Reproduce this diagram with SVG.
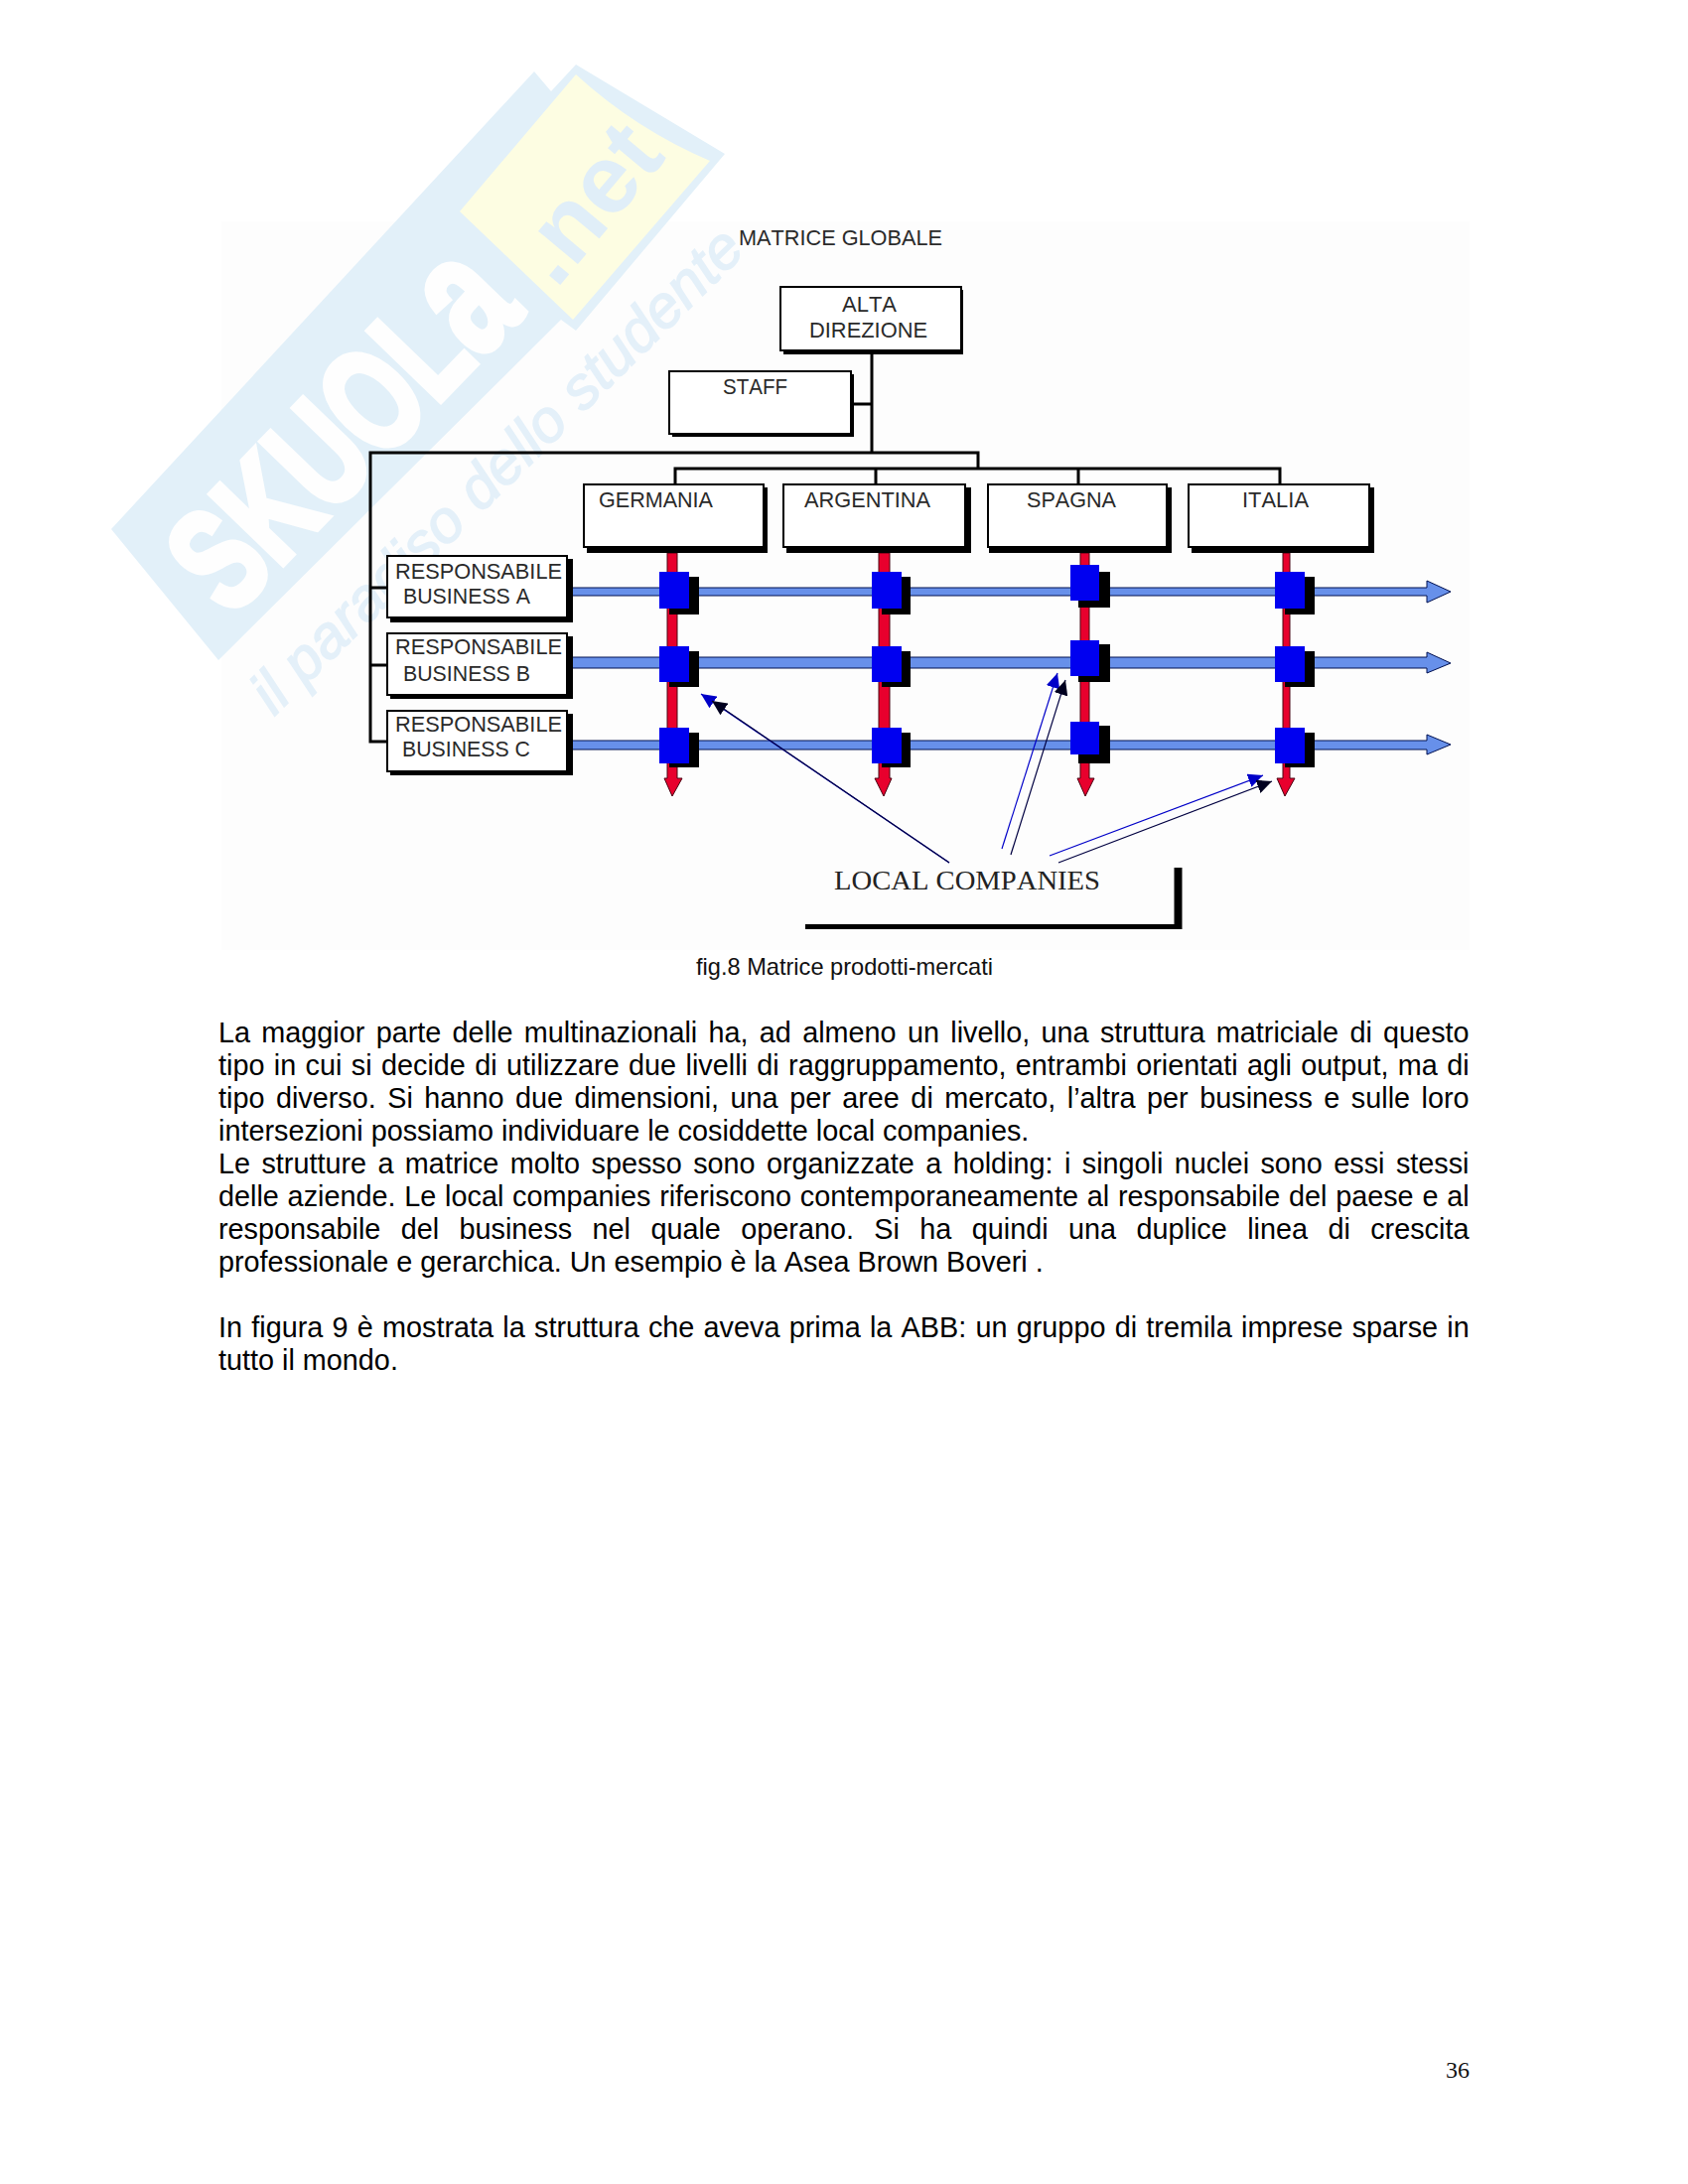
<svg xmlns="http://www.w3.org/2000/svg" width="1700" height="2200" viewBox="0 0 1700 2200">
<style>
text{font-family:"Liberation Sans",Arial,sans-serif;font-kerning:none}
.lab{font-size:22px;fill:#2a2a2a}
.body{font-size:28.8px;fill:#000}
.box{fill:#fff;stroke:#000;stroke-width:2}
.sh{fill:#000}
.ln{fill:none;stroke:#000;stroke-width:3}
.hbar{fill:#6790ea;stroke:#001050;stroke-width:1}
.vbar{fill:#e8002d;stroke:#4a0010;stroke-width:1}
.sq{fill:#0000f0}
.blue{stroke:#0000c8;stroke-width:1.2;fill:none}
.navy{stroke:#000040;stroke-width:1.2;fill:none}
</style>
<defs>
<marker id="mb" markerUnits="userSpaceOnUse" markerWidth="16" markerHeight="14" refX="15" refY="7" orient="auto"><path d="M0 0L15 7L0 14Z" fill="#0000c8"/></marker>
<marker id="mk" markerUnits="userSpaceOnUse" markerWidth="16" markerHeight="14" refX="15" refY="7" orient="auto"><path d="M0 0L15 7L0 14Z" fill="#000020"/></marker>
</defs>
<rect width="1700" height="2200" fill="#fff"/>
<rect x="223" y="223" width="1257" height="734" fill="#fdfdfd"/>
<g id="watermark">
<polygon points="112,533 538,72 555,92 580,65 730,155 580,333 565,322 220,665" fill="#e2f0f9"/>
<path d="M580 75Q640 130 715 162L577 322L463 213Z" fill="#fdfde2"/>
<text transform="translate(232,623) rotate(-46) scale(0.66,0.94)" font-size="156" font-weight="700" fill="#fefefe" stroke="#fefefe" stroke-width="7">SKUOL<tspan font-size="185">a</tspan></text>
<text transform="translate(560,292) rotate(-50)" font-size="98" font-weight="700" fill="#e0eef8">.net</text>
<text transform="translate(276,722) rotate(-44.5)" font-size="60" font-style="italic" fill="#e4f0f9" stroke="#e4f0f9" stroke-width="1.5" textLength="668" lengthAdjust="spacingAndGlyphs">il paradiso dello studente</text>
</g>
<text id="title" class="lab" x="744" y="247" textLength="205" lengthAdjust="spacingAndGlyphs">MATRICE GLOBALE</text>
<g id="connectors">
<path class="ln" d="M878 357V456M860 407H878M985 472V456H373V747H390M373 592H390M373 670H390"/>
<path class="ln" d="M680 487V472H1289V487M882 472V487M1086 472V487"/>
<path class="vbar" d="M672 557H682V784H687L677 802L669 784H672Z"/>
<path class="vbar" d="M885 557H896V784H898L890 802L881 784H885Z"/>
<path class="vbar" d="M1088 557H1097V784H1102L1093 802L1085 784H1088Z"/>
<path class="vbar" d="M1292 557H1299V784H1304L1294 802L1286 784H1292Z"/>
<path class="hbar" d="M576 592H1437V585L1461 596L1437 607V600H576Z"/>
<path class="hbar" d="M576 662H1437V657L1461 668L1437 678V673H576Z"/>
<path class="hbar" d="M576 746H1437V740L1461 750L1437 760V755H576Z"/>
</g>
<g id="node-alta"><rect class="sh" x="789" y="292" width="181" height="65"/><rect class="box" x="786" y="289" width="182" height="64"/><text class="lab" x="848" y="314" textLength="55" lengthAdjust="spacingAndGlyphs">ALTA</text><text class="lab" x="815" y="340" textLength="119" lengthAdjust="spacingAndGlyphs">DIREZIONE</text></g>
<g id="node-staff"><rect class="sh" x="677" y="377" width="183" height="63"/><rect class="box" x="674" y="374" width="183" height="63"/><text class="lab" x="728" y="397" textLength="65" lengthAdjust="spacingAndGlyphs">STAFF</text></g>
<g id="node-germania"><rect class="sh" x="591" y="491" width="182" height="66"/><rect class="box" x="588" y="488" width="181" height="63"/><text class="lab" x="603" y="511" textLength="115" lengthAdjust="spacingAndGlyphs">GERMANIA</text></g>
<g id="node-argentina"><rect class="sh" x="792" y="491" width="186" height="66"/><rect class="box" x="789" y="488" width="183" height="63"/><text class="lab" x="810" y="511" textLength="127" lengthAdjust="spacingAndGlyphs">ARGENTINA</text></g>
<g id="node-spagna"><rect class="sh" x="996" y="491" width="184" height="66"/><rect class="box" x="995" y="488" width="180" height="63"/><text class="lab" x="1034" y="511" textLength="90" lengthAdjust="spacingAndGlyphs">SPAGNA</text></g>
<g id="node-italia"><rect class="sh" x="1200" y="491" width="184" height="66"/><rect class="box" x="1197" y="488" width="182" height="63"/><text class="lab" x="1251" y="511" textLength="67" lengthAdjust="spacingAndGlyphs">ITALIA</text></g>
<g id="node-business-a"><rect class="sh" x="393" y="563" width="184" height="64"/><rect class="box" x="390" y="560" width="181" height="62"/><text class="lab" x="398" y="583" textLength="168" lengthAdjust="spacingAndGlyphs">RESPONSABILE</text><text class="lab" x="406" y="608" textLength="128" lengthAdjust="spacingAndGlyphs">BUSINESS A</text></g>
<g id="node-business-b"><rect class="sh" x="393" y="641" width="184" height="63"/><rect class="box" x="390" y="638" width="181" height="62"/><text class="lab" x="398" y="659" textLength="168" lengthAdjust="spacingAndGlyphs">RESPONSABILE</text><text class="lab" x="406" y="686" textLength="128" lengthAdjust="spacingAndGlyphs">BUSINESS B</text></g>
<g id="node-business-c"><rect class="sh" x="393" y="719" width="184" height="62"/><rect class="box" x="390" y="716" width="181" height="61"/><text class="lab" x="398" y="737" textLength="168" lengthAdjust="spacingAndGlyphs">RESPONSABILE</text><text class="lab" x="405" y="762" textLength="129" lengthAdjust="spacingAndGlyphs">BUSINESS C</text></g>
<g id="node-cells">
<rect class="sh" x="674" y="581" width="30" height="38"/><rect class="sq" x="664" y="576" width="30" height="37"/>
<rect class="sh" x="674" y="656" width="30" height="36"/><rect class="sq" x="664" y="651" width="30" height="36"/>
<rect class="sh" x="674" y="738" width="30" height="35"/><rect class="sq" x="664" y="733" width="30" height="36"/>
<rect class="sh" x="888" y="581" width="29" height="38"/><rect class="sq" x="878" y="576" width="30" height="37"/>
<rect class="sh" x="888" y="656" width="29" height="36"/><rect class="sq" x="878" y="651" width="30" height="36"/>
<rect class="sh" x="888" y="738" width="29" height="35"/><rect class="sq" x="878" y="733" width="30" height="36"/>
<rect class="sh" x="1086" y="576" width="32" height="36"/><rect class="sq" x="1078" y="569" width="29" height="36"/>
<rect class="sh" x="1086" y="649" width="32" height="38"/><rect class="sq" x="1078" y="645" width="29" height="36"/>
<rect class="sh" x="1086" y="731" width="32" height="38"/><rect class="sq" x="1078" y="727" width="29" height="33"/>
<rect class="sh" x="1294" y="581" width="30" height="38"/><rect class="sq" x="1284" y="576" width="30" height="37"/>
<rect class="sh" x="1294" y="656" width="30" height="36"/><rect class="sq" x="1284" y="651" width="30" height="36"/>
<rect class="sh" x="1294" y="738" width="30" height="35"/><rect class="sq" x="1284" y="733" width="30" height="36"/>
</g>
<g id="local-arrows">
<path class="blue" d="M956 869L706 699" marker-end="url(#mb)"/>
<path class="navy" d="M956 869L717 706" marker-end="url(#mk)"/>
<path class="blue" d="M1009 855L1065 678" marker-end="url(#mb)"/>
<path class="navy" d="M1018 861L1073 685" marker-end="url(#mk)"/>
<path class="blue" d="M1057 862L1272 781" marker-end="url(#mb)"/>
<path class="navy" d="M1066 869L1281 787" marker-end="url(#mk)"/>
</g>
<g id="node-local">
<text x="840" y="896" font-size="27" fill="#222" style="font-family:'Liberation Serif',serif" textLength="268" lengthAdjust="spacingAndGlyphs">LOCAL COMPANIES</text>
<path d="M811 933.500H1186.500V874" fill="none" stroke="#000" stroke-width="5"/>
<path d="M1186.500 874V936" fill="none" stroke="#000" stroke-width="8"/>
</g>
<text x="701" y="982" font-size="23.6" fill="#111">fig.8 Matrice prodotti-mercati</text>
<g id="body">
<text class="body" x="220" y="1050" style="word-spacing:3.3px">La maggior parte delle multinazionali ha, ad almeno un livello, una struttura matriciale di questo</text>
<text class="body" x="220" y="1083" style="word-spacing:1.39px">tipo in cui si decide di utilizzare due livelli di raggruppamento, entrambi orientati agli output, ma di</text>
<text class="body" x="220" y="1116" style="word-spacing:3.49px">tipo diverso. Si hanno due dimensioni, una per aree di mercato, l’altra per business e sulle loro</text>
<text class="body" x="220" y="1149">intersezioni possiamo individuare le cosiddette local companies.</text>
<text class="body" x="220" y="1182" style="word-spacing:3.4px">Le strutture a matrice molto spesso sono organizzate a holding: i singoli nuclei sono essi stessi</text>
<text class="body" x="220" y="1215" style="word-spacing:0.78px">delle aziende. Le local companies riferiscono contemporaneamente al responsabile del paese e al</text>
<text class="body" x="220" y="1248" style="word-spacing:12.4px">responsabile del business nel quale operano. Si ha quindi una duplice linea di crescita</text>
<text class="body" x="220" y="1281">professionale e gerarchica. Un esempio è la Asea Brown Boveri .</text>
<text class="body" x="220" y="1347" style="word-spacing:1.25px">In figura 9 è mostrata la struttura che aveva prima la ABB: un gruppo di tremila imprese sparse in</text>
<text class="body" x="220" y="1380">tutto il mondo.</text>
</g>
<text x="1456" y="2093" font-size="24" fill="#111" style="font-family:'Liberation Serif',serif">36</text>
</svg>
